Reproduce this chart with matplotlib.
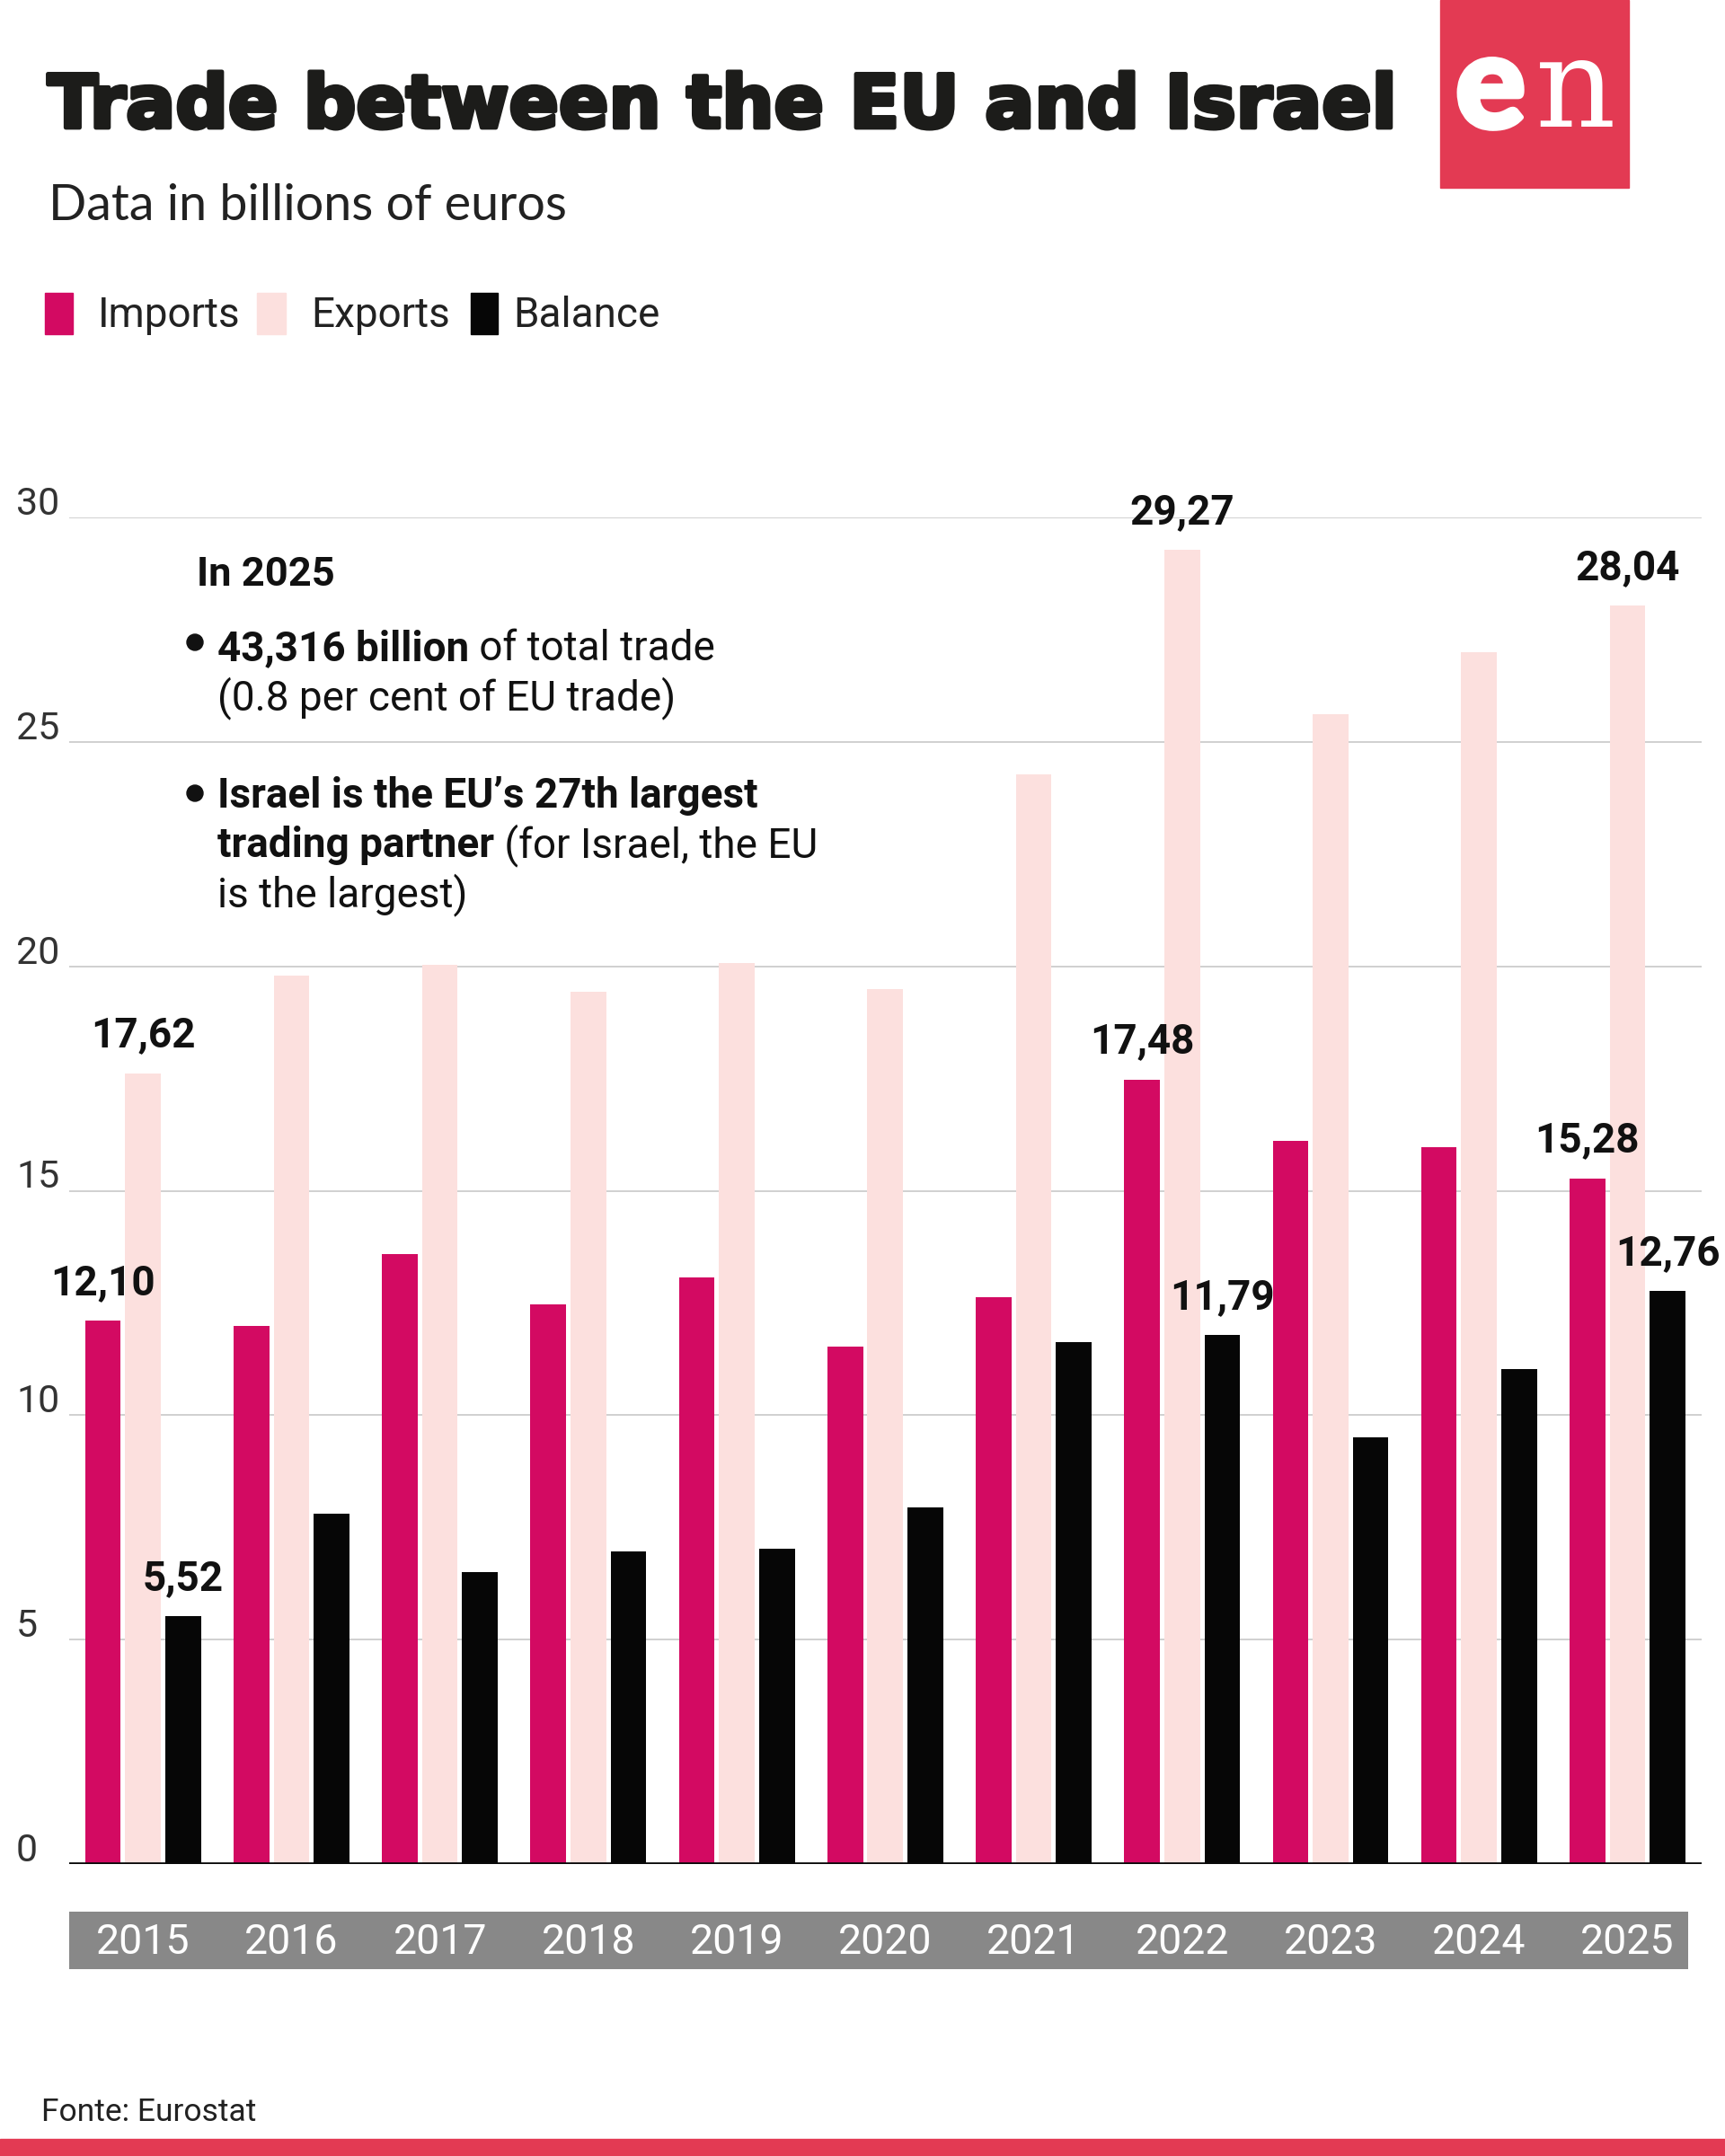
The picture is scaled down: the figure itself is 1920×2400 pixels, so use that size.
import numpy as np
import matplotlib.pyplot as plt
import matplotlib.patheffects as pe
from matplotlib.patches import Rectangle, Ellipse

# dati (miliardi di euro)
years = ['2015', '2016', '2017', '2018', '2019', '2020', '2021', '2022', '2023', '2024', '2025']
imports = [12.10, 11.98, 13.58, 12.47, 13.06, 11.52, 12.63, 17.48, 16.12, 15.97, 15.28]
exports = [17.62, 19.80, 20.04, 19.43, 20.07, 19.49, 24.27, 29.27, 25.62, 27.00, 28.04]
balance = [5.52, 7.81, 6.50, 6.96, 7.02, 7.94, 11.62, 11.79, 9.50, 11.03, 12.76]

# etichette mostrate sopra le barre: (serie, indice anno)
labelled = [('imp', 0), ('exp', 0), ('bal', 0),
            ('imp', 7), ('exp', 7), ('bal', 7),
            ('imp', 10), ('exp', 10), ('bal', 10)]

C_IMP = '#d30a62'
C_EXP = '#fce0de'
C_BAL = '#060606'
C_RED = '#e33a53'
FONT = 'Roboto'

W, H = 1920, 2400
fig = plt.figure(figsize=(W / 100, H / 100), dpi=100)
renderer = fig.canvas.get_renderer()


def P(x, y):
    # pixel (dall'alto a sinistra) -> coordinate figura
    return x / W, 1 - y / H


def txt(x, y, s, **kw):
    kw.setdefault('family', FONT)
    kw.setdefault('va', 'baseline')
    return fig.text(*P(x, y), s, **kw)


def fit(t, width):
    # ridimensiona il testo per ottenere la larghezza voluta
    w = t.get_window_extent(renderer).width
    t.set_fontsize(t.get_fontsize() * width / w)


def dot(x, y, r=9):
    fig.patches.append(Ellipse(P(x, y), 2 * r / W, 2 * r / H,
                               transform=fig.transFigure, color='#111111'))


# titolo (grassetto ispessito con un contorno)
t = txt(53, 142, 'Trade between the EU and Israel', family='DejaVu Sans',
        fontweight='bold', fontsize=68, color='#1c1c1a',
        path_effects=[pe.withStroke(linewidth=3.4, foreground='#1c1c1a')])
fit(t, 1502)

# logo
fig.patches.append(Rectangle(P(1603, 209), 210 / W, 209 / H, transform=fig.transFigure,
                             color=C_RED, zorder=0))
t = txt(1620, 142, 'e', family=['Lato', 'DejaVu Sans'], fontweight='black',
        fontsize=105, color='white',
        path_effects=[pe.withStroke(linewidth=4, foreground='white')])
fit(t, 78)
txt(1709, 141, 'n', family='DejaVu Serif', fontsize=100, color='white')

# sottotitolo
t = txt(54, 245, 'Data in billions of euros', family=['Lato', 'DejaVu Sans'],
        fontweight='normal', fontsize=33, color='#222222')
fit(t, 578)

# legenda
for x0, x1, tx, lab, c in [(50, 81, 109, 'Imports', C_IMP),
                           (286, 318, 346, 'Exports', C_EXP),
                           (524, 554, 571, 'Balance', C_BAL)]:
    fig.patches.append(Rectangle(P(x0, 372), (x1 - x0) / W, 46 / H,
                                 transform=fig.transFigure, color=c))
    txt(tx, 364, lab, fontsize=33, color='#222222')

# grafico
x = np.arange(len(years))
bw = 0.24
off = 0.27
ax = fig.add_axes([76.6 / W, 1 - 2075 / H, (1894 - 76.6) / W, (2075 - 576) / H])
ax.bar(x - off, imports, bw, color=C_IMP, zorder=2)
ax.bar(x, exports, bw, color=C_EXP, zorder=2)
ax.bar(x + off, balance, bw, color=C_BAL, zorder=2)
ax.set_xlim(-0.5, 10.5)
ax.set_ylim(0, 30)
for s in ax.spines.values():
    s.set_visible(False)
ax.set_xticks([])
ax.set_yticks([])
for v in range(5, 31, 5):
    ax.axhline(v, color='#c4c4c4', lw=1.1, zorder=1)
ax.axhline(0, color='#0a0a0a', lw=3.4, zorder=3)

# etichette asse y
for v in range(0, 31, 5):
    ax.annotate(str(v), xy=(0, v), xycoords=('figure fraction', 'data'),
                xytext=(18, 3), textcoords='offset pixels', family=FONT,
                fontsize=31, color='#333333', va='baseline', ha='left')

# valori sopra le barre
series = {'imp': (imports, -off), 'exp': (exports, 0), 'bal': (balance, off)}
for key, i in labelled:
    vals, dx = series[key]
    ax.annotate(f'{vals[i]:.2f}'.replace('.', ','), xy=(x[i] + dx, vals[i]),
                xytext=(0, 21), textcoords='offset points', ha='center',
                va='baseline', family=FONT, fontweight='bold', fontsize=33,
                color='#111111', annotation_clip=False)

# fascia degli anni
axb = fig.add_axes([76.6 / W, 1 - 2192 / H, (1894 - 76.6) / W, 64 / H])
axb.set_xlim(-0.5, 10.5)
axb.set_ylim(0, 1)
axb.axis('off')
axb.add_patch(Rectangle((-0.528, 0), 10.41 + 0.528, 1, color='#888888', lw=0))
for xi, yr in zip(x, years):
    axb.text(xi, 0.47, yr, ha='center', va='center', family=FONT, fontsize=33.5,
             color='white')


# nota
def rich_line(x0, y0, parts):
    cx = x0
    for s, bold in parts:
        t = txt(cx, y0, s, fontsize=33, fontweight='bold' if bold else 'normal',
                color='#111111')
        cx += t.get_window_extent(renderer).width


txt(219, 652, 'In 2025', fontsize=32.6, fontweight='bold', color='#111111')
dot(217, 715)
rich_line(242, 735, [('43,316 billion', True), (' of total trade', False)])
rich_line(242, 790, [('(0.8 per cent of EU trade)', False)])
dot(217, 883)
rich_line(242, 899, [('Israel is the EU\u2019s 27th largest', True)])
rich_line(242, 954, [('trading partner', True), (' (for Israel, the EU', False)])
rich_line(242, 1009, [('is the largest)', False)])

# fonte
t = txt(46, 2361, 'Fonte: Eurostat', fontsize=26, color='#222222')
fit(t, 239)

# banda rossa in basso
fig.patches.append(Rectangle((0, 0), 1, 19 / H, transform=fig.transFigure, color=C_RED))

fig.savefig('out.png', dpi=100, facecolor='white')
